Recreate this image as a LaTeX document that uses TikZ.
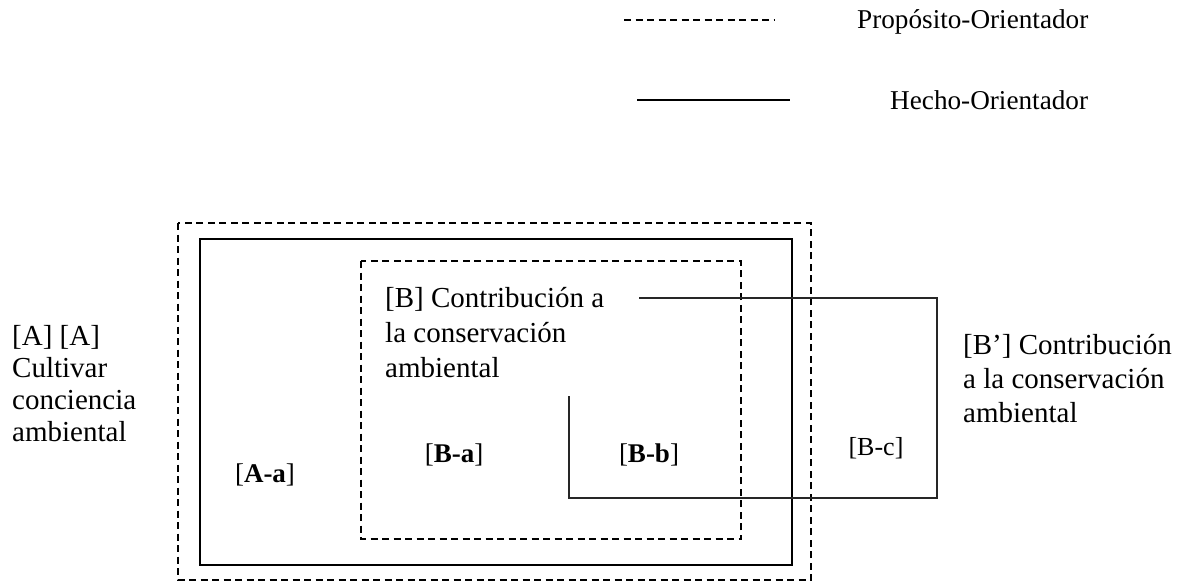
\documentclass[tikz,border=0pt]{standalone}
\usepackage{fontspec}
\setmainfont{Liberation Serif}
\begin{document}
\begin{tikzpicture}[x=1pt,y=-1pt,
  dashline/.style={draw=black,line width=1.2pt,dash pattern=on 7pt off 4.5pt},
  solidline/.style={draw=black,line width=1.8pt},
  thinline/.style={draw=black!85,line width=1.3pt},
  legendtext/.style={anchor=base west,inner sep=0pt,font=\fontsize{27.2}{32}\selectfont},
  blocktext/.style={anchor=base west,inner sep=0pt,align=left},
  labeltext/.style={anchor=base,inner sep=0pt,font=\fontsize{27}{32}\selectfont}]
\useasboundingbox (0,0) rectangle (1184,582);
% legend
\coordinate (ld1) at (624,20);
\coordinate (ld2) at (775,20);
\coordinate (ls1) at (637,100);
\coordinate (ls2) at (790,100);
\draw[dashline] (ld1) -- (ld2);
\draw[solidline,line width=1.5pt] (ls1) -- (ls2);
\node[legendtext] (lp) at (857,28) {Propósito-Orientador};
\node[legendtext] (lh) at (890,109) {Hecho-Orientador};
% regions
\coordinate (oa) at (178,223);
\coordinate (ob) at (811,580);
\coordinate (sa) at (200,239);
\coordinate (sb) at (792,565);
\coordinate (ia) at (361,261);
\coordinate (ib) at (741,539);
\draw[dashline] (oa) rectangle (ob);
\draw[solidline] (sa) rectangle (sb);
\draw[dashline] (ia) rectangle (ib);
% B' open frame
\coordinate (p1) at (639,298);
\coordinate (p2) at (937,298);
\coordinate (p3) at (937,498);
\coordinate (p4) at (569,498);
\coordinate (p5) at (569,396);
\draw[thinline] (p1) -- (p2) -- (p3) -- (p4) -- (p5);
% texts (base anchor = last line's baseline)
\node[blocktext,font=\fontsize{29}{32}\selectfont] (ta) at (12,441) {[A] [A]\\Cultivar\\conciencia\\ambiental};
\node[blocktext,font=\fontsize{29}{35}\selectfont] (tb) at (385,377) {[B] Contribución a\\la conservación\\ambiental};
\node[blocktext,font=\fontsize{29}{34}\selectfont] (tbp) at (963,422) {[B’] Contribución\\a la conservación\\ambiental};
\node[labeltext] (aa) at (265,482) {[\textbf{A-a}]};
\node[labeltext] (ba) at (454,462) {[\textbf{B-a}]};
\node[labeltext] (bb) at (649,462) {[\textbf{B-b}]};
\node[labeltext,font=\fontsize{26}{30}\selectfont] (bc) at (876,455) {[B-c]};
\end{tikzpicture}
\end{document}
